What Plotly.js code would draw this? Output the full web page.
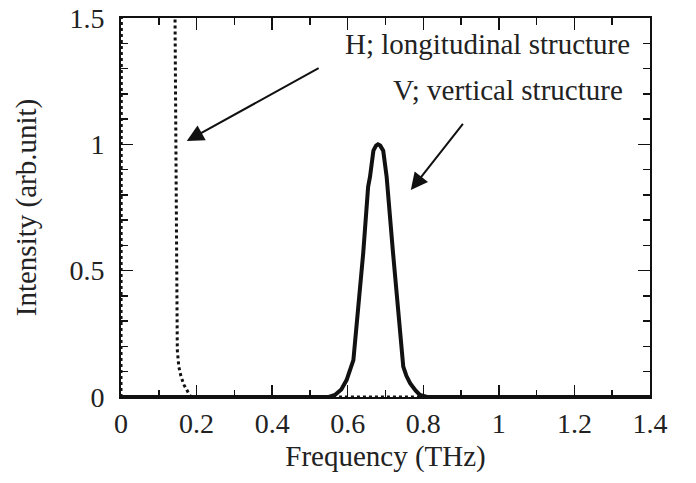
<!DOCTYPE html>
<html><head><meta charset="utf-8">
<script src="https://cdn.plot.ly/plotly-3.0.1.min.js"></script>
<style>html,body{margin:0;padding:0;background:#fff}#chart{width:696px;height:483px}</style>
</head><body><div id="chart"></div>
<script>
// H; longitudinal structure (dotted)
const hFreq = [0, 0.005, 0.07, 0.14, 0.143, 0.145, 0.147, 0.149, 0.153, 0.159, 0.167, 0.177, 0.183, 0.19, 0.3, 0.6, 1.0, 1.4];
const hInt  = [0, 8, 6, 2.0, 1.5, 1.0, 0.38, 0.186, 0.12, 0.08, 0.047, 0.02, 0.004, 0, 0, 0, 0, 0];
// V; vertical structure (solid)
const vFreq = [0, 0.3, 0.55, 0.566, 0.583, 0.597, 0.615, 0.628, 0.641, 0.654, 0.659, 0.668, 0.675, 0.68, 0.686, 0.694, 0.703, 0.72, 0.742, 0.747, 0.755, 0.765, 0.78, 0.791, 0.81, 1.0, 1.4];
const vInt  = [0, 0, 0, 0.008, 0.03, 0.067, 0.146, 0.357, 0.569, 0.832, 0.872, 0.975, 0.995, 1.0, 0.995, 0.975, 0.872, 0.569, 0.173, 0.12, 0.085, 0.055, 0.025, 0.008, 0, 0, 0];
const xTicks = [0, 0.2, 0.4, 0.6, 0.8, 1, 1.2, 1.4];
const xTickText = ['0', '0.2', '0.4', '0.6', '0.8', '1', '1.2', '1.4'];
const yTicks = [0, 0.5, 1, 1.5];
const yTickText = ['0', '0.5', '1', '1.5'];
const labelH = 'H; longitudinal structure';
const labelV = 'V; vertical structure';

const F = 'Liberation Serif, Times New Roman, serif';
const traces = [
  {x: hFreq, y: hInt, mode: 'lines', line: {color: '#111', width: 3, dash: 'dot'}, hoverinfo: 'skip'},
  {x: vFreq, y: vInt, mode: 'lines', line: {color: '#111', width: 4}, hoverinfo: 'skip'}
];
const axCommon = {
  showgrid: false, zeroline: false, showline: true, linecolor: '#111', linewidth: 2,
  mirror: 'ticks', ticks: 'inside', ticklen: 12, tickwidth: 1.5, tickcolor: '#111',
  tickfont: {family: F, size: 28, color: '#222'}
};
const layout = {
  width: 696, height: 483,
  margin: {l: 121, r: 46, t: 18, b: 86},
  paper_bgcolor: '#fff', plot_bgcolor: '#fff',
  showlegend: false,
  font: {family: F, color: '#222'},
  xaxis: Object.assign({}, axCommon, {
    range: [0, 1.4], tickmode: 'array', tickvals: xTicks, ticktext: xTickText,
    ticklabelstandoff: 0,
    minor: {dtick: 0.1, ticks: 'inside', ticklen: 7, tickwidth: 1.5, tickcolor: '#111'},
    title: {text: 'Frequency (THz)', font: {family: F, size: 29, color: '#222'}, standoff: 8}
  }),
  yaxis: Object.assign({}, axCommon, {
    range: [0, 1.5], tickmode: 'array', tickvals: yTicks, ticktext: yTickText,
    ticklabelstandoff: 9,
    minor: {dtick: 0.1, ticks: 'inside', ticklen: 7, tickwidth: 1.5, tickcolor: '#111'},
    title: {text: 'Intensity (arb.unit)', font: {family: F, size: 29, color: '#222'}, standoff: 24}
  }),
  annotations: [
    {xref: 'x', yref: 'y', x: 1.352, y: 1.397, text: labelH, showarrow: false, xanchor: 'right', yanchor: 'middle', font: {family: F, size: 29, color: '#222'}},
    {xref: 'x', yref: 'y', x: 1.334, y: 1.215, text: labelV, showarrow: false, xanchor: 'right', yanchor: 'middle', font: {family: F, size: 29, color: '#222'}},
    {xref: 'x', yref: 'y', x: 0.174, y: 1.013, axref: 'x', ayref: 'y', ax: 0.527, ay: 1.305, text: '', showarrow: true, arrowhead: 2, arrowsize: 1.7, arrowwidth: 2, arrowcolor: '#111', standoff: 0},
    {xref: 'x', yref: 'y', x: 0.767, y: 0.819, axref: 'x', ayref: 'y', ax: 0.908, ay: 1.087, text: '', showarrow: true, arrowhead: 2, arrowsize: 1.7, arrowwidth: 2, arrowcolor: '#111', standoff: 0}
  ]
};
Plotly.newPlot('chart', traces, layout, {staticPlot: true, displayModeBar: false});
</script></body></html>
